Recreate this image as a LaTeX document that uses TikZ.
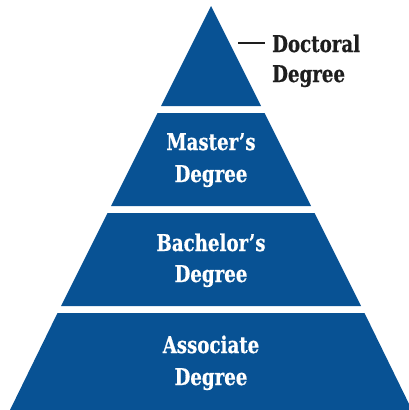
\documentclass[tikz,border=0pt]{standalone}
\usepackage{fontspec}
\setmainfont{DejaVu Serif Condensed}[FakeStretch=0.88,BoldFeatures={FakeBold=0.6}]
\definecolor{pyrblue}{RGB}{8,82,148}
\definecolor{labelink}{RGB}{30,30,30}
\begin{document}
\begin{tikzpicture}[x=1pt,y=-1pt,
  tier/.style={fill=pyrblue},
  tiertext/.style={anchor=base,text=white,font=\fontsize{23}{30}\selectfont\bfseries,inner sep=0pt},
  sidetext/.style={anchor=base west,text=labelink,font=\fontsize{23}{30}\selectfont\bfseries,inner sep=0pt}]
\useasboundingbox (0,0) rectangle (409,410);
% apex (211,6), half-width slope 0.5
\fill[tier] (211,6) -- (261,106) -- (161,106) -- cycle;
\fill[tier] (157.5,113) -- (264.5,113) -- (311,206) -- (111,206) -- cycle;
\fill[tier] (107.5,213) -- (314.5,213) -- (361,306) -- (61,306) -- cycle;
\fill[tier] (57.5,313) -- (364.5,313) -- (412,410) -- (10,410) -- cycle;
\node[tiertext] (masters1) at (211,150) {Master’s};
\node[tiertext] (masters2) at (211,182) {Degree};
\node[tiertext] (bachelors1) at (211,251) {Bachelor’s};
\node[tiertext] (bachelors2) at (211,282) {Degree};
\node[tiertext] (associate1) at (211,353) {Associate};
\node[tiertext] (associate2) at (211,385) {Degree};
\node[sidetext] (doctoral1) at (272,52) {Doctoral};
\node[sidetext] (doctoral2) at (272,82) {Degree};
\coordinate (dashstart) at (238,43);
\coordinate (dashend) at (265,43);
\draw[labelink,line width=1.8pt] (dashstart) -- (dashend);
\end{tikzpicture}
\end{document}
